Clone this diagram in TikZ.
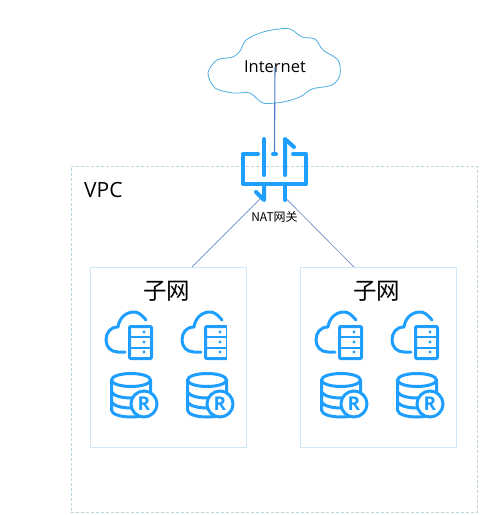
\documentclass[tikz,border=0pt]{standalone}
\usepackage{fontspec}
\setmainfont{Open Sans}
\newfontfamily\cjk{Noto Sans CJK SC}
\definecolor{iconblue}{HTML}{1E9FFF}
\definecolor{cloudline}{HTML}{4DAEE0}
\definecolor{linkblue}{HTML}{7F9BD0}
\definecolor{uplinkblue}{HTML}{4F7FCC}
\definecolor{vpcline}{HTML}{BCD3E0}
\definecolor{subnetline}{HTML}{CFE8F7}
\tikzset{
  iconline/.style={draw=iconblue,line width=3pt,line cap=round,line join=round},
  natline/.style={draw=iconblue,line width=4pt,line cap=round,line join=round},
  link/.style={draw=linkblue,line width=0.8pt},
  uplink/.style={draw=uplinkblue,line width=1.1pt},
  vpcbox/.style={draw=vpcline,densely dashed,line width=0.8pt},
  subnetbox/.style={draw=subnetline,line width=1pt},
  label/.style={inner sep=0pt,text=black},
  cloudserver/.pic={
    \draw[iconline] (41,8) .. controls (36,2) and (33,0) .. (29,0)
      .. controls (20,0) and (14,7) .. (13,15)
      .. controls (5,15) and (1,21) .. (1,28)
      .. controls (1,35) and (6,40) .. (13,40) -- (20,40);
    \draw[iconline,rounded corners=1pt] (24.5,14.5) rectangle (46.5,46.5);
    \draw[iconline,line width=2.4pt,line cap=butt] (24,25) -- (47,25) (24,36) -- (47,36);
    \foreach \dy in {20,30,40} \fill[iconblue] (39,\dy) circle (1.7);
  },
  dbicon/.pic={
    \draw[iconline] (21,7) ellipse [x radius=19.5,y radius=6.5];
    \draw[iconline] (1.5,7) -- (1.5,37) .. controls (1.5,41) and (10,44) .. (21,44)
      .. controls (32,44) and (40.5,41) .. (40.5,37) -- (40.5,7);
    \draw[iconline] (1.5,19) .. controls (4,23) and (12,25) .. (21,25) .. controls (28,25) and (32,24) .. (36,22);
    \draw[iconline] (1.5,29) .. controls (4,33) and (12,35) .. (21,35);
    \node[circle,draw=iconblue,fill=white,line width=3pt,minimum size=26pt,inner sep=0pt,font=\bfseries\fontsize{19}{19}\selectfont,text=iconblue] at (34,31) {R};
  }
}
\begin{document}
\begin{tikzpicture}[x=1pt,y=-1pt]
\useasboundingbox (0,0) rectangle (480,515);
\fill[white] (0,0) rectangle (480,515);
% VPC
\node[vpcbox,minimum width=406pt,minimum height=346pt,inner sep=0pt,anchor=north west] (vpc) at (71,166) {};
\node[label,anchor=west,font=\fontsize{21}{21}\selectfont] (vpclabel) at (84,190) {VPC};
% Subnets
\node[subnetbox,minimum width=156pt,minimum height=180pt,inner sep=0pt,anchor=north west] (subA) at (90,267) {};
\node[subnetbox,minimum width=156pt,minimum height=180pt,inner sep=0pt,anchor=north west] (subB) at (300,267) {};
\node[label,font=\cjk\fontsize{23.5}{23.5}\selectfont] (subAlabel) at (166.5,291) {子网};
\node[label,font=\cjk\fontsize{23.5}{23.5}\selectfont] (subBlabel) at (376.5,291) {子网};
% Cloud
\draw[cloudline,line width=0.8pt,fill=white] plot[smooth cycle,tension=0.5] coordinates {
 (240,51) (246,40) (260,33) (275,29.5) (290,29) (302,37) (315,39) (323,50) (338,60) (340,75)
 (332,85) (312,89) (300,97) (283,102) (263,103) (250,93) (233,93) (215,88) (208,73) (217,60) (233,57)};
\node[label,font=\fontsize{16.5}{16.5}\selectfont] (inet) at (275,67) {Internet};
% NAT icon
\coordinate (natin) at (274.5,154);
\coordinate (natL) at (260,199);
\coordinate (natR) at (287,199.5);
\draw[uplink] (inet.center) -- (natin);
\draw[natline] (258,154) -- (243,154) -- (243,184) -- (306,184) -- (306,154) -- (293,154);
\draw[natline] (273,154) -- (276,154);
\draw[natline] (264,139) -- (264,175);
\draw[natline] (294,147) -- (285,139) -- (285,175);
\draw[natline] (264,185) -- (264,200) -- (256,192);
\draw[natline] (285,185) -- (285,200);
\node[label,font=\cjk\fontsize{12}{12}\selectfont] (natlabel) at (274.5,217) {NAT网关};
% Links
\coordinate (subAin) at (192,267);
\coordinate (subBin) at (354,267);
\draw[link] (natL) -- (subAin);
\draw[link] (natR) -- (subBin);
% Icons
\foreach \ox in {105,181,315,391} \pic at (\ox,312) {cloudserver};
\foreach \ox in {110,186,320,396} \pic at (\ox,373) {dbicon};
\fill[white] (226.7,320) rectangle (232,362);
\end{tikzpicture}
\end{document}
